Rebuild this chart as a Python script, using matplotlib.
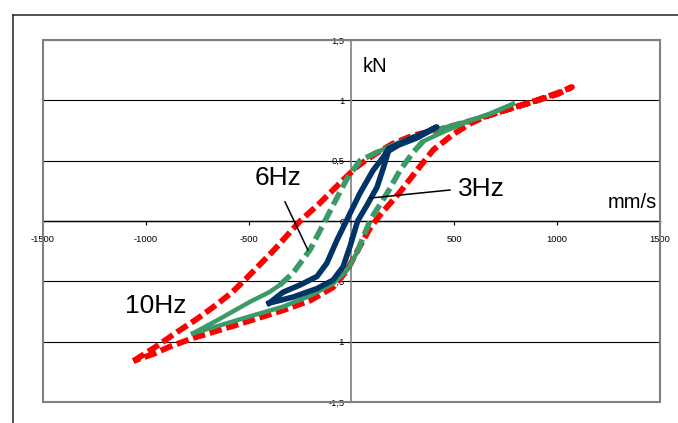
import matplotlib
matplotlib.use('Agg')
import matplotlib.pyplot as plt
from matplotlib.patches import Rectangle
from matplotlib.lines import Line2D

plt.rcParams['font.family'] = ['Liberation Sans', 'DejaVu Sans']
plt.rcParams['lines.scale_dashes'] = False
plt.rcParams['axes.unicode_minus'] = False

# 10Hz loop (red), two branches from the left tip to the right tip
red_up_x = [-1060, -950, -848, -750, -654, -580, -508, -382, -250, -153, -41, 27, 75, 139, 200, 300, 430, 600, 750, 900, 1000, 1072]
red_up_y = [-1.16, -1.04, -0.92, -0.81, -0.69, -0.59, -0.47, -0.25, 0.00, 0.15, 0.34, 0.45, 0.51, 0.58, 0.64, 0.71, 0.76, 0.84, 0.92, 1.00, 1.06, 1.11]
red_lo_x = [-1060, -960, -882, -770, -576, -445, -333, -202, -90, -22, 41, 90, 139, 236, 318, 398, 495, 580, 658, 750, 850, 1000, 1072]
red_lo_y = [-1.16, -1.10, -1.04, -0.97, -0.87, -0.80, -0.74, -0.66, -0.55, -0.41, -0.21, -0.06, 0.05, 0.24, 0.42, 0.59, 0.72, 0.81, 0.87, 0.92, 0.97, 1.05, 1.11]

# 6Hz loop (green)
green_up_x = [-770, -650, -494, -400, -348, -284, -202, -138, -90, -22, 41, 124, 200, 300, 420, 550, 680, 785]
green_up_y = [-0.93, -0.82, -0.67, -0.59, -0.53, -0.43, -0.24, -0.03, 0.13, 0.35, 0.50, 0.57, 0.63, 0.70, 0.76, 0.82, 0.89, 0.97]
green_lo_x = [-770, -650, -494, -333, -202, -90, -22, 27, 60, 95, 140, 180, 236, 300, 348, 462, 560, 658, 785]
green_lo_y = [-0.93, -0.87, -0.79, -0.71, -0.62, -0.52, -0.41, -0.26, -0.12, 0.02, 0.14, 0.25, 0.42, 0.57, 0.66, 0.75, 0.82, 0.88, 0.97]

# 3Hz loop (blue)
blue_up_x = [-400, -333, -250, -168, -120, -71, -25, 41, 105, 155, 180, 270, 367, 415]
blue_up_y = [-0.68, -0.59, -0.53, -0.46, -0.35, -0.16, 0.00, 0.23, 0.42, 0.53, 0.60, 0.67, 0.74, 0.78]
blue_lo_x = [-400, -284, -168, -90, -41, -7, 30, 75, 124, 155, 180, 230, 320, 415]
blue_lo_y = [-0.68, -0.63, -0.56, -0.49, -0.38, -0.21, 0.00, 0.13, 0.28, 0.44, 0.58, 0.63, 0.69, 0.78]

x_ticks = [-1500, -1000, -500, 0, 500, 1000, 1500]
y_ticks = [-1.5, -1, -0.5, 0, 0.5, 1, 1.5]
y_tick_labels = ['-1,5', '-1', '-0,5', '0', '0,5', '1', '1,5']

fig = plt.figure(figsize=(6.78, 4.23), dpi=100)
ax = fig.add_axes([0.0634, 0.0496, 0.910, 0.8558])

red = '#ff0000'
green = '#3a9a68'
blue = '#003366'

# red loop, dashed all round
ax.plot(red_up_x + red_lo_x[::-1], red_up_y + red_lo_y[::-1], color=red, lw=4.2,
        dashes=(9, 3.5), zorder=3)

# green loop: solid tails, dashed middle part
ax.plot(green_up_x[:5], green_up_y[:5], color=green, lw=3.2, zorder=4)
ax.plot(green_up_x[4:12], green_up_y[4:12], color=green, lw=4, dashes=(10, 4), zorder=4)
ax.plot(green_up_x[11:], green_up_y[11:], color=green, lw=3.2, zorder=4)
ax.plot(green_lo_x[:8], green_lo_y[:8], color=green, lw=3.2, zorder=4)
ax.plot(green_lo_x[7:15], green_lo_y[7:15], color=green, lw=4, dashes=(10, 4), zorder=4)
ax.plot(green_lo_x[14:], green_lo_y[14:], color=green, lw=3.2, zorder=4)

# blue loop, solid
ax.plot(blue_up_x + blue_lo_x[::-1], blue_up_y + blue_lo_y[::-1], color=blue, lw=4,
        solid_joinstyle='round', zorder=5)

ax.set_xlim(-1500, 1500)
ax.set_ylim(-1.5, 1.5)
ax.set_xticks(x_ticks)
ax.set_yticks(y_ticks)
ax.set_yticklabels(y_tick_labels)

ax.spines['left'].set_position(('data', 0))
ax.spines['bottom'].set_position(('data', 0))
ax.spines['left'].set_color('#808080')
ax.spines['left'].set_linewidth(1.2)
ax.spines['bottom'].set_color('black')
ax.spines['bottom'].set_linewidth(1.0)
ax.spines['top'].set_visible(False)
ax.spines['right'].set_visible(False)
ax.add_patch(Rectangle((0, 0), 1, 1, transform=ax.transAxes, fill=False,
                       ec='#808080', lw=1.5, clip_on=False, zorder=6))

ax.yaxis.grid(True, color='black', lw=0.8)
ax.set_axisbelow(True)
ax.tick_params(axis='x', direction='out', length=3, labelsize=6.7, pad=7)
ax.tick_params(axis='y', direction='out', length=3, labelsize=6.7, pad=2)

# labels and leader lines
ax.text(56, 1.235, 'kN', fontsize=14.5, ha='left', va='baseline')
ax.text(1485, 0.108, 'mm/s', fontsize=14.5, ha='right', va='baseline')
ax.text(-357, 0.357, '6Hz', fontsize=19, ha='center', va='center')
ax.text(518, 0.265, '3Hz', fontsize=19, ha='left', va='center')
ax.text(-950, -0.705, '10Hz', fontsize=19, ha='center', va='center')
ax.plot([-323, -212], [0.158, -0.24], color='black', lw=1.1, zorder=7)
ax.plot([90, 479], [0.19, 0.257], color='black', lw=1.1, zorder=7)

# outer chart frame, cut off by the picture edge
fig.add_artist(Line2D([0.0192, 0.0192], [0, 0.9645], color='#222222', lw=1.1))
fig.add_artist(Line2D([0.0192, 1.0], [0.9645, 0.9645], color='#222222', lw=1.1))

fig.savefig('out.png', dpi=100)
